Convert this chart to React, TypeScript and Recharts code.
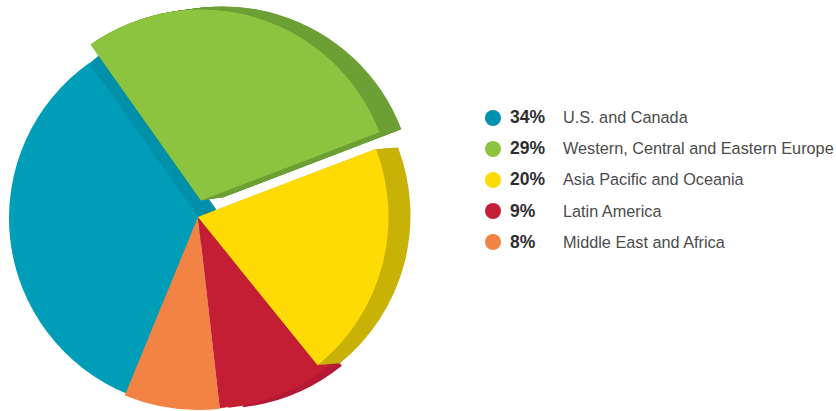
import React from "react";
import { PieChart, Pie, Cell, Sector, Legend } from "recharts";

const regions = ["U.S. and Canada", "Western, Central and Eastern Europe", "Asia Pacific and Oceania", "Latin America", "Middle East and Africa"];
const shares = [34, 29, 20, 9, 8];
const shareLabels = ["34%", "29%", "20%", "9%", "8%"];

const faceColors = ["#009DB8", "#8CC43F", "#FEDB05", "#C41E35", "#F28345"];
const sideColors = ["#0090A9", "#6C9F34", "#C9B206", "#B51934", "#F28345"];
const legendColors = ["#0093B0", "#8CC43F", "#FEDB05", "#C41E35", "#F28345"];

const chartData = regions.map((name, i) => ({ name, value: shares[i] }));

// slice index, pie centre, radius, colour, and how far the slice is swept from its face (extrusion)
type Layer = { slice: number; cx: number; cy: number; r: number; fill: string; sweep?: [number, number] };
const faces: Layer[] = [
  { slice: 0, cx: 199, cy: 218, r: 190, fill: faceColors[0] },
  { slice: 4, cx: 198, cy: 217, r: 193, fill: faceColors[4] },
  { slice: 3, cx: 198, cy: 217, r: 192.5, fill: faceColors[3] },
  { slice: 2, cx: 198, cy: 217, r: 190.5, fill: faceColors[2] },
  { slice: 1, cx: 201, cy: 200.5, r: 191, fill: faceColors[1] },
];
const sides: Layer[] = [
  { slice: 0, cx: 216, cy: 209, r: 193, fill: sideColors[0] },
  { slice: 3, cx: 221, cy: 216, r: 192.5, fill: sideColors[3] },
  { slice: 3, cx: 206, cy: 211, r: 198, fill: faceColors[3] },
  { slice: 2, cx: 198, cy: 217, r: 190.5, fill: sideColors[2], sweep: [22, -1.7] },
  { slice: 1, cx: 201, cy: 200.5, r: 191, fill: sideColors[1], sweep: [22, -3] },
];

const renderLayer = (layer: Layer) => {
  const shape = (props: any) => {
    if (!layer.sweep) return <Sector {...props} />;
    const n = Math.ceil(Math.abs(layer.sweep[0]));
    return (
      <g>
        {Array.from({ length: n + 1 }, (_, k) => (
          <Sector
            {...props}
            key={k}
            cx={props.cx + (layer.sweep![0] * k) / n}
            cy={props.cy + (layer.sweep![1] * k) / n}
          />
        ))}
      </g>
    );
  };
  return (
    <Pie
      key={`${layer.slice}-${layer.fill}-${layer.cx}`}
      data={chartData}
      dataKey="value"
      nameKey="name"
      cx={layer.cx}
      cy={layer.cy}
      innerRadius={0}
      outerRadius={layer.r}
      startAngle={247.7}
      endAngle={-112.3}
      stroke="none"
      legendType="none"
      label={false}
      labelLine={false}
      isAnimationActive={false}
      shape={shape}
    >
      {chartData.map((_, i) => (
        <Cell key={i} fill={i === layer.slice ? layer.fill : "none"} />
      ))}
    </Pie>
  );
};

const LegendRows = () => (
  <div style={{ fontFamily: '"Liberation Sans", Arial, sans-serif', fontSize: 16.25 }}>
    {regions.map((name, i) => (
      <div key={name} style={{ height: 31.2, display: "flex", alignItems: "center", whiteSpace: "nowrap" }}>
        <span style={{ width: 16, height: 16, borderRadius: "50%", background: legendColors[i], display: "inline-block", flex: "none" }} />
        <span style={{ width: 53, marginLeft: 9, fontSize: 17.5, fontWeight: 700, color: "#2E2E30", flex: "none" }}>{shareLabels[i]}</span>
        <span style={{ color: "#4B4B4D" }}>{name}</span>
      </div>
    ))}
  </div>
);

export default function App() {
  return (
    <div style={{ position: "absolute", left: 0, top: 0, width: 836, height: 411, background: "#fff" }}>
      <PieChart width={836} height={411} margin={{ top: 0, right: 0, bottom: 0, left: 0 }}>
        {sides.map(renderLayer)}
        {faces.map(renderLayer)}
        <Legend content={<LegendRows />} layout="vertical" wrapperStyle={{ position: "absolute", left: 485, top: 102, width: 351, bottom: "auto" }} />
      </PieChart>
    </div>
  );
}
